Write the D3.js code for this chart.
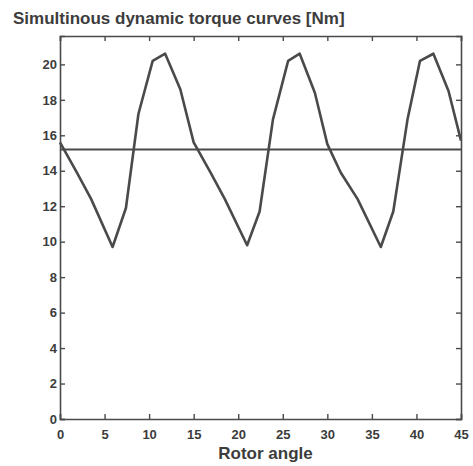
<!DOCTYPE html>
<html>
<head>
<meta charset="utf-8">
<script src="https://d3js.org/d3.v7.min.js"></script>
<style>
    body { margin: 0; background: #ffffff; }
</style>
</head>
<body>
<div id="chart"></div>
<script>
let font = "'Liberation Sans', Arial, sans-serif"

// Drehmomentverlauf, Periode ca. 15 Grad
let rotorAngle = [0, 1.9, 3.5, 5.9, 7.4, 8.8, 10.4, 11.8, 13.5, 15,
    16.9, 18.5, 21.0, 22.4, 23.9, 25.6, 26.9, 28.6, 30,
    31.5, 33.4, 36.0, 37.4, 39.0, 40.4, 41.9, 43.6, 45];
let torque = [15.6, 13.9, 12.4, 9.7, 11.9, 17.2, 20.2, 20.6, 18.6, 15.6,
    13.9, 12.4, 9.8, 11.7, 16.9, 20.2, 20.6, 18.4, 15.5,
    13.9, 12.4, 9.7, 11.7, 16.9, 20.2, 20.6, 18.5, 15.7];

// Mittelwert als waagrechte Linie
let meanAngle = [0, 45];
let meanTorque = [15.2, 15.2];

let xTicks = [0, 5, 10, 15, 20, 25, 30, 35, 40, 45];
let yTicks = [0, 2, 4, 6, 8, 10, 12, 14, 16, 18, 20];

let titel = "Simultinous dynamic torque curves [Nm]";
let xLabel = "Rotor angle";

function zeigeDiagram() {
    let textfarbe = "#3c3c3c";
    let linienfarbe = "#4a4a4a";

    var margin = { top: 36, right: 12, bottom: 47, left: 60 },
        width = 461 - margin.left,
        height = 419 - margin.top;

    let svg = d3.select("#chart").append("svg")
        .attr("width", 473)
        .attr("height", 466);

    svg.append("text")
        .attr("x", 13)
        .attr("y", 24)
        .attr("font-family", font)
        .attr("font-weight", "bold")
        .attr("font-size", "17px")
        .attr("fill", textfarbe)
        .text(titel);

    let g = svg.append("g")
        .attr("transform", "translate(" + margin.left + "," + margin.top + ")");

    var x = d3.scaleLinear().domain([0, 45]).range([0, width]);
    var y = d3.scaleLinear().domain([0, 21.6]).range([height, 0]);

    // Achsen mit Ticks nach innen (alle vier Seiten)
    let achseUnten = g.append("g")
        .attr("transform", "translate(0," + height + ")")
        .call(d3.axisBottom(x).tickValues(xTicks).tickSize(-5).tickPadding(11));
    let achseOben = g.append("g")
        .call(d3.axisTop(x).tickValues(xTicks).tickSize(-5).tickFormat(""));
    let achseLinks = g.append("g")
        .call(d3.axisLeft(y).tickValues(yTicks).tickSize(-5).tickPadding(3));
    let achseRechts = g.append("g")
        .attr("transform", "translate(" + width + ",0)")
        .call(d3.axisRight(y).tickValues(yTicks).tickSize(-5).tickFormat(""));

    [achseUnten, achseOben, achseLinks, achseRechts].forEach(a => {
        a.select(".domain").attr("stroke", linienfarbe).attr("stroke-width", 1.6);
        a.selectAll(".tick line").attr("stroke", linienfarbe).attr("stroke-width", 1.4);
        a.selectAll(".tick text")
            .attr("font-family", font)
            .attr("font-weight", "bold")
            .attr("font-size", "13px")
            .attr("fill", textfarbe);
    });

    // Mittelwert-Linie
    let mittel = meanAngle.map((a, i) => ({ a: a, t: meanTorque[i] }));
    g.append("path")
        .datum(mittel)
        .attr("fill", "none")
        .attr("stroke", linienfarbe)
        .attr("stroke-width", 2)
        .attr("d", d3.line().x(d => x(d.a)).y(d => y(d.t)));

    // Drehmomentkurve
    let kurve = rotorAngle.map((a, i) => ({ a: a, t: torque[i] }));
    g.append("path")
        .datum(kurve)
        .attr("fill", "none")
        .attr("stroke", linienfarbe)
        .attr("stroke-width", 2.6)
        .attr("stroke-linejoin", "round")
        .attr("d", d3.line().x(d => x(d.a)).y(d => y(d.t)));

    svg.append("text")
        .attr("x", margin.left + width / 2 + 5)
        .attr("y", 459)
        .attr("text-anchor", "middle")
        .attr("font-family", font)
        .attr("font-weight", "bold")
        .attr("font-size", "17px")
        .attr("fill", textfarbe)
        .text(xLabel);
}

zeigeDiagram();
</script>
</body>
</html>
